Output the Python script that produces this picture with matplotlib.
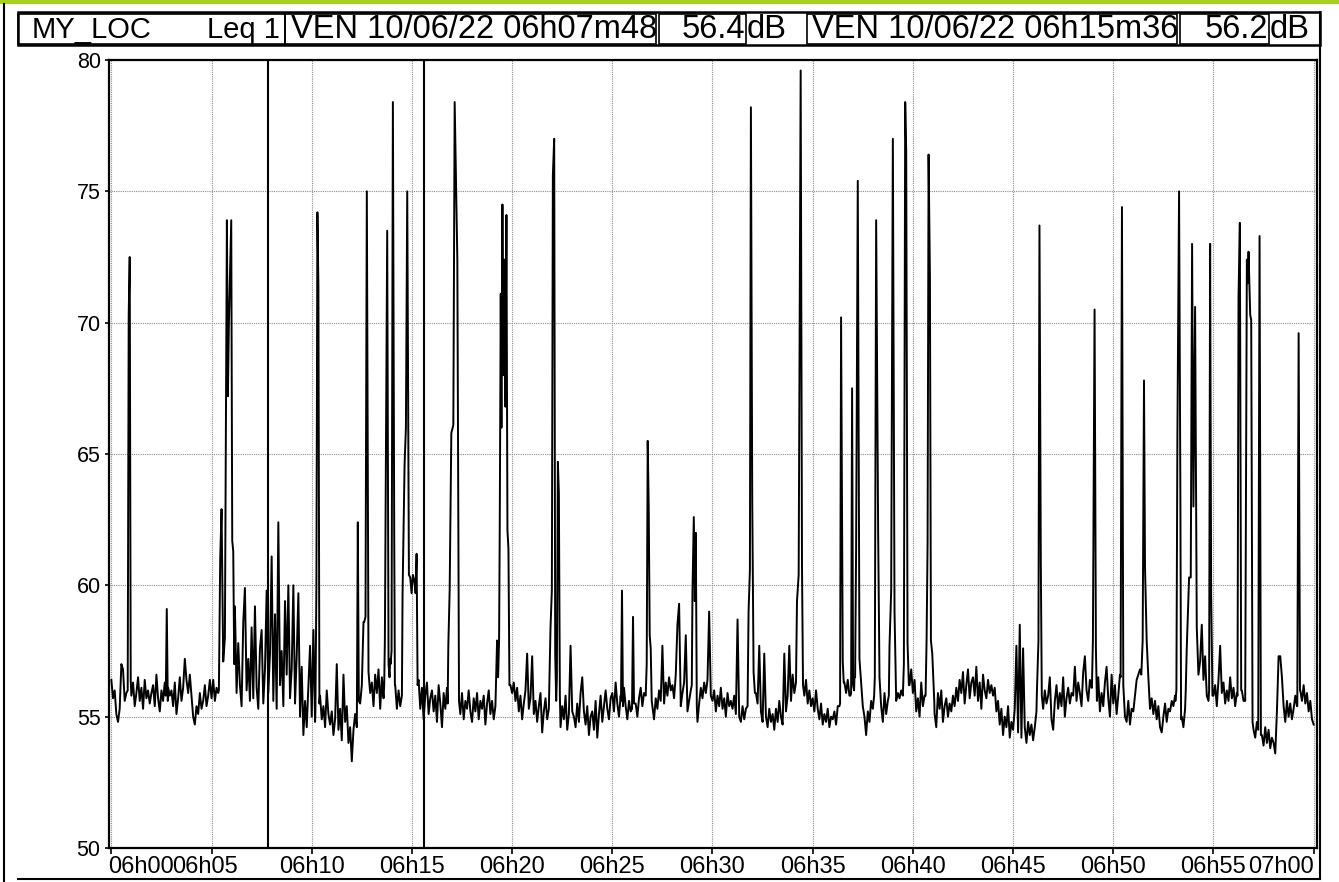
import numpy as np
import matplotlib
matplotlib.use("Agg")
import matplotlib.pyplot as plt
import matplotlib.transforms as mtransforms
from matplotlib.patches import Rectangle

plt.rcParams['font.family'] = ['Liberation Sans', 'DejaVu Sans']

# header texts
site_name = "MY_LOC"
index_name = "Leq 1"
cursor1_label = "VEN 10/06/22 06h07m48"
cursor1_value = "56.4"
cursor2_label = "VEN 10/06/22 06h15m36"
cursor2_value = "56.2"
unit = "dB"

# cursor positions, seconds after 06h00
cursor_t = [468, 936]

# axis ticks
x_ticks = [0, 300, 600, 900, 1200, 1500, 1800, 2100, 2400, 2700, 3000, 3300, 3600]
x_labels = ["06h00", "06h05", "06h10", "06h15", "06h20", "06h25", "06h30",
            "06h35", "06h40", "06h45", "06h50", "06h55", "07h00"]
y_ticks = [50, 55, 60, 65, 70, 75, 80]

# background level, one value every 5 s, one row per minute
base_db_by_min = [
    [56.4, 55.7, 56.0, 55.1, 54.8, 55.3, 57.0, 56.8, 55.6, 55.9, 56.2, 56.0],
    [55.8, 56.3, 55.4, 55.9, 56.5, 55.6, 56.1, 55.3, 56.4, 55.7, 56.0, 55.5],
    [55.9, 56.2, 55.4, 56.6, 55.7, 55.2, 56.0, 55.6, 56.3, 55.5, 56.1, 55.8],
    [56.0, 55.4, 56.3, 55.1, 55.7, 56.5, 55.6, 56.1, 57.2, 56.4, 55.9, 56.6],
    [55.8, 55.0, 54.7, 55.4, 55.1, 55.9, 55.3, 55.6, 56.2, 55.4, 55.8, 56.4],
    [55.7, 56.4, 55.6, 56.1, 55.9, 56.3, 56.0, 56.5, 56.2, 56.8, 57.0, 56.4],
    [57.5, 56.3, 59.2, 55.9, 57.8, 56.2, 55.4, 58.6, 59.9, 56.0, 57.2, 55.6],
    [58.4, 55.7, 59.2, 56.1, 55.3, 57.6, 58.3, 55.5, 56.8, 59.8, 55.9, 57.4],
    [61.1, 55.6, 58.9, 55.3, 62.4, 56.2, 57.5, 55.4, 59.4, 56.6, 60.0, 55.7],
    [56.8, 60.0, 55.5, 57.3, 59.7, 55.0, 56.9, 54.3, 55.6, 54.6, 56.2, 57.7],
    [55.0, 58.3, 54.8, 55.6, 56.0, 55.8, 54.9, 55.4, 54.6, 56.0, 55.1, 54.7],
    [55.2, 54.3, 54.9, 57.0, 54.5, 55.3, 54.1, 56.6, 54.8, 55.4, 54.0, 54.6],
    [53.3, 54.5, 55.1, 55.6, 55.9, 55.5, 56.2, 58.6, 58.8, 57.0, 56.7, 55.9],
    [56.3, 55.4, 56.6, 55.9, 56.8, 55.3, 56.5, 55.7, 57.9, 56.2, 57.0, 57.2],
    [57.4, 55.8, 56.2, 55.3, 56.0, 55.4, 56.1, 59.7, 64.6, 60.4, 59.9, 60.4],
    [60.2, 59.7, 60.5, 61.2, 56.4, 55.3, 56.1, 54.9, 55.8, 56.3, 55.1, 55.7],
    [56.0, 55.2, 55.8, 54.8, 56.2, 55.5, 54.6, 55.9, 55.3, 56.1, 55.0, 57.7],
    [59.8, 65.8, 66.1, 72.4, 55.6, 55.1, 55.9, 54.9, 55.6, 55.3, 56.0, 55.2],
    [54.8, 55.7, 55.2, 55.9, 54.9, 55.6, 55.3, 55.8, 54.7, 55.5, 56.0, 55.1],
    [55.6, 54.9, 55.4, 57.9, 57.9, 62.3, 71.1, 74.5, 72.4, 74.1, 62.1, 56.2],
    [55.9, 56.3, 55.6, 56.1, 55.2, 55.8, 54.9, 55.5, 56.0, 57.4, 55.3, 55.7],
    [57.3, 55.1, 55.6, 54.8, 55.4, 55.9, 54.4, 55.2, 55.7, 54.9, 55.3, 58.4],
    [59.8, 55.6, 56.5, 63.5, 55.8, 54.6, 55.4, 54.9, 55.8, 54.5, 55.1, 57.7],
    [55.2, 55.0, 54.6, 55.5, 54.8, 55.9, 56.5, 55.2, 54.7, 55.4, 54.3, 55.0],
    [55.2, 54.5, 55.6, 54.2, 55.1, 55.8, 54.8, 55.4, 56.0, 55.3, 54.9, 55.7],
    [55.9, 55.2, 56.3, 55.5, 55.0, 55.8, 59.8, 56.1, 55.4, 54.9, 55.6, 55.2],
    [55.3, 58.8, 55.5, 55.0, 55.7, 56.1, 55.4, 55.9, 56.5, 55.6, 58.1, 56.0],
    [55.4, 54.9, 55.7, 55.3, 56.0, 55.6, 57.7, 55.5, 56.3, 55.8, 56.5, 56.0],
    [56.2, 55.7, 56.6, 58.5, 59.3, 55.4, 55.9, 56.3, 58.1, 55.2, 55.6, 56.0],
    [59.7, 62.6, 62.0, 54.8, 55.5, 56.1, 55.7, 56.3, 55.9, 56.4, 59.0, 55.8],
    [55.6, 56.0, 55.2, 55.8, 55.4, 56.1, 55.3, 55.7, 55.0, 55.9, 55.4, 55.6],
    [55.3, 55.8, 55.1, 58.7, 55.0, 54.8, 55.4, 54.9, 55.3, 59.0, 60.6, 78.2],
    [63.2, 56.7, 55.9, 55.5, 57.7, 55.2, 54.8, 57.4, 55.0, 54.6, 55.3, 54.8],
    [55.1, 54.5, 55.3, 54.8, 55.6, 55.0, 54.7, 57.4, 55.2, 55.8, 57.7, 55.6],
    [56.6, 55.9, 56.3, 59.4, 60.4, 79.6, 56.2, 55.8, 56.4, 55.5, 56.0, 55.4],
    [55.7, 55.2, 56.0, 55.3, 54.9, 55.5, 54.7, 55.1, 54.8, 55.3, 54.6, 55.0],
    [54.9, 55.2, 54.7, 55.4, 55.6, 70.2, 57.1, 56.3, 55.9, 56.4, 55.8, 56.1],
    [56.2, 56.5, 61.4, 75.4, 57.2, 56.3, 55.4, 55.0, 54.3, 55.2, 54.8, 55.6],
    [55.3, 56.5, 73.9, 62.0, 56.5, 55.4, 54.8, 55.9, 55.1, 55.6, 57.7, 59.8],
    [77.0, 59.0, 55.6, 55.9, 55.7, 56.0, 55.5, 56.1, 55.8, 57.0, 56.2, 56.8],
    [55.9, 56.4, 55.2, 55.7, 55.0, 56.3, 55.4, 55.8, 55.1, 61.6, 71.8, 57.4],
    [55.6, 55.1, 54.6, 55.9, 55.3, 56.0, 54.8, 55.4, 55.7, 55.0, 55.5, 55.2],
    [55.8, 55.4, 56.1, 55.6, 56.4, 55.9, 56.7, 55.5, 56.2, 56.8, 55.7, 56.3],
    [56.5, 55.8, 56.9, 55.6, 56.3, 55.3, 56.6, 56.0, 55.7, 56.4, 55.9, 56.2],
    [55.8, 56.1, 55.2, 55.6, 54.7, 55.3, 54.3, 55.0, 54.6, 55.4, 54.2, 54.8],
    [54.5, 55.3, 57.7, 54.4, 58.5, 54.2, 57.6, 54.6, 54.0, 54.8, 54.3, 54.7],
    [54.1, 54.6, 55.2, 57.9, 60.9, 55.8, 55.3, 56.0, 55.5, 55.8, 56.5, 54.9],
    [54.5, 55.6, 56.2, 55.3, 55.9, 55.4, 56.5, 55.0, 55.7, 56.1, 55.5, 55.9],
    [55.8, 56.9, 55.6, 56.3, 55.9, 55.4, 56.7, 57.3, 56.0, 55.6, 56.4, 56.1],
    [57.9, 56.4, 55.6, 56.5, 55.2, 55.9, 55.4, 56.3, 56.9, 55.7, 55.0, 56.6],
    [55.5, 56.2, 55.1, 55.8, 56.6, 74.4, 55.9, 55.0, 54.8, 55.6, 54.7, 55.3],
    [55.2, 55.8, 56.4, 56.6, 56.8, 67.8, 57.9, 56.5, 55.6, 55.9, 55.3, 55.7],
    [55.1, 55.6, 54.9, 55.4, 54.6, 54.4, 55.0, 55.5, 54.8, 55.3, 55.2, 55.6],
    [55.4, 55.8, 55.2, 56.3, 75.0, 55.0, 54.6, 55.3, 57.6, 60.3, 60.3, 63.0],
    [63.0, 70.6, 56.6, 56.2, 57.1, 58.5, 56.4, 57.3, 55.8, 56.2, 55.5, 73.0],
    [55.8, 56.2, 55.4, 56.4, 57.7, 55.9, 56.3, 55.5, 56.0, 55.6, 56.5, 55.7],
    [56.1, 55.4, 55.9, 56.2, 73.8, 56.0, 55.6, 55.8, 72.4, 72.7, 70.3, 54.8],
    [54.5, 54.2, 54.8, 54.1, 73.3, 54.3, 53.9, 54.6, 54.0, 54.5, 53.8, 54.2],
    [54.0, 53.6, 55.2, 57.3, 57.3, 56.5, 55.4, 54.8, 55.6, 55.0, 55.5, 54.9],
    [55.3, 55.8, 55.4, 69.6, 56.0, 55.6, 56.2, 55.5, 55.9, 55.2, 55.6, 54.9],
]
base_db_end = 54.7

# short noise events (time in s, level in dB), these replace the background points they cover
events = [
    [(49, 56.0), (52, 70.3), (55, 72.5), (58, 56.4)],
    [(163, 55.8), (166, 59.1), (169, 55.6)],
    [(322, 56.0), (326, 61.0), (330, 62.9), (335, 57.1), (340, 58.0), (346, 73.9),
     (349, 67.2), (352, 70.0), (359, 73.9), (362, 61.7), (365, 61.3), (368, 57.0)],
    [(611, 55.2), (614, 60.0), (617, 74.2), (620, 71.4), (623, 55.5)],
    [(735, 54.6), (738, 62.4), (741, 55.6)],
    [(757, 58.6), (761, 58.8), (765, 75.0), (770, 56.7)],
    [(817, 56.2), (819, 57.9), (821, 62.3), (826, 73.5), (830, 57.0), (833, 56.5)],
    [(836, 57.0), (839, 57.5), (843, 78.4), (847, 62.0), (849, 56.2)],
    [(870, 55.8), (872, 59.7), (878, 64.6), (882, 66.0), (886, 75.0), (891, 60.4),
     (895, 60.3), (899, 59.7), (903, 60.4), (907, 60.2), (911, 59.7), (914, 61.2), (917, 56.2)],
    [(1007, 55.5), (1009, 57.7), (1013, 59.8), (1018, 65.8), (1024, 66.1), (1028, 78.4),
     (1036, 72.4), (1041, 55.6)],
    [(1158, 56.5), (1161, 57.9), (1163, 62.3), (1166, 71.1), (1168, 66.0), (1171, 74.5),
     (1174, 68.0), (1177, 72.4), (1180, 66.8), (1183, 74.1), (1186, 62.1), (1189, 61.4), (1192, 56.2)],
    [(1315, 58.4), (1319, 59.8), (1322, 75.6), (1326, 77.0), (1329, 57.4), (1332, 55.6),
     (1334, 56.5), (1337, 64.7), (1340, 63.5), (1343, 55.8)],
    [(1526, 55.6), (1529, 59.8), (1532, 55.4)],
    [(1559, 55.3), (1562, 58.8), (1565, 55.5)],
    [(1600, 55.8), (1603, 57.0), (1606, 65.5), (1609, 63.0), (1612, 58.1), (1615, 57.6), (1618, 55.6)],
    [(1738, 56.2), (1740, 59.7), (1744, 62.6), (1747, 59.4), (1750, 62.0), (1753, 55.4)],
    [(1905, 55.4), (1908, 59.0), (1912, 60.6), (1915, 78.2), (1919, 63.2), (1923, 56.7), (1927, 55.9)],
    [(2050, 56.3), (2053, 59.4), (2058, 60.4), (2064, 79.6), (2068, 60.7), (2071, 56.2)],
    [(2180, 55.4), (2182, 55.5), (2185, 70.2), (2188, 62.0), (2190, 57.1), (2193, 56.3)],
    [(2213, 55.8), (2215, 55.9), (2218, 67.5), (2221, 56.2), (2224, 56.0)],
    [(2227, 56.5), (2230, 61.4), (2235, 75.4), (2240, 57.2), (2245, 56.3)],
    [(2284, 55.8), (2286, 56.5), (2290, 73.9), (2293, 68.1), (2296, 62.0), (2300, 56.5)],
    [(2328, 55.8), (2330, 57.7), (2335, 59.8), (2340, 77.0), (2345, 59.0), (2350, 55.6)],
    [(2370, 55.8), (2373, 57.0), (2377, 78.4), (2380, 76.5), (2384, 57.8), (2388, 56.2)],
    [(2438, 55.8), (2441, 57.9), (2444, 61.6), (2447, 76.4), (2451, 71.8), (2454, 57.9),
     (2458, 57.4), (2464, 55.6)],
    [(2771, 55.8), (2776, 57.9), (2779, 73.7), (2783, 60.9), (2786, 55.8)],
    [(2936, 56.1), (2939, 57.9), (2944, 70.5), (2948, 57.6), (2951, 55.6)],
    [(3022, 56.5), (3026, 74.4), (3030, 56.2)],
    [(3084, 56.6), (3088, 57.9), (3092, 67.8), (3095, 60.7), (3100, 57.9), (3105, 56.5)],
    [(3186, 55.6), (3189, 56.0), (3192, 65.7), (3197, 75.0), (3201, 63.1), (3203, 54.9)],
    [(3217, 56.0), (3220, 57.6), (3227, 60.3), (3232, 60.3), (3236, 73.0), (3240, 63.0),
     (3245, 70.6), (3250, 58.4), (3255, 56.6)],
    [(3285, 55.6), (3287, 56.0), (3290, 73.0), (3293, 59.7), (3297, 55.8)],
    [(3372, 55.8), (3375, 71.0), (3379, 73.8), (3383, 56.0)],
    [(3395, 55.6), (3400, 72.4), (3403, 71.5), (3405, 72.7), (3410, 70.3), (3413, 70.1), (3417, 54.8)],
    [(3434, 54.5), (3438, 73.3), (3442, 54.3)],
    [(3551, 55.4), (3555, 69.6), (3559, 56.0)],
]

# build the series
base_db = np.array([v for row in base_db_by_min for v in row] + [base_db_end])
base_t = np.arange(len(base_db)) * 5.0
keep = np.ones(len(base_t), dtype=bool)
ev_t, ev_db = [], []
for ev in events:
    t0, t1 = ev[0][0], ev[-1][0]
    keep &= ~((base_t >= t0) & (base_t <= t1))
    ev_t += [p[0] for p in ev]
    ev_db += [p[1] for p in ev]
t_all = np.concatenate([base_t[keep], ev_t])
db_all = np.concatenate([base_db[keep], ev_db])
order = np.argsort(t_all, kind="stable")
t_all, db_all = t_all[order], db_all[order]

W, H = 1339, 882
fig = plt.figure(figsize=(W / 100, H / 100), dpi=100)
fig.patch.set_facecolor("white")

# overlay in pixel coordinates for the frame and header
ov = fig.add_axes([0, 0, 1, 1])
ov.set_xlim(0, W)
ov.set_ylim(H, 0)
ov.axis("off")
ov.patch.set_alpha(0)

ov.add_patch(Rectangle((0, 0), W, 4, facecolor="#a8d020", edgecolor="none"))
ov.plot([4, 4], [4, H], color="black", lw=1.5)
ov.plot([18, 1320], [879, 879], color="black", lw=1.5)
ov.plot([1320, 1320], [12, 879], color="black", lw=1.5)

hy0, hy1 = 12, 45
ov.add_patch(Rectangle((18, hy0), 1320 - 18, hy1 - hy0, fill=False, edgecolor="black", lw=1.8))
for x0, x1 in [(18, 285), (285, 656), (659, 746), (807, 1177), (1180, 1269)]:
    ov.add_patch(Rectangle((x0, hy0 + 1.5), x1 - x0, hy1 - hy0 - 3, fill=False,
                           edgecolor="black", lw=1.2))
yc = (hy0 + hy1) / 2 + 1
ov.text(32, yc, site_name, fontsize=21, va="center", ha="left")
ov.text(280, yc, index_name, fontsize=21, va="center", ha="right")
ov.text(291, yc, cursor1_label, fontsize=23.5, va="center", ha="left")
ov.text(745, yc, cursor1_value, fontsize=23.5, va="center", ha="right")
ov.text(747, yc, unit, fontsize=23.5, va="center", ha="left")
ov.text(812, yc, cursor2_label, fontsize=23.5, va="center", ha="left")
ov.text(1268, yc, cursor2_value, fontsize=23.5, va="center", ha="right")
ov.text(1270, yc, unit, fontsize=23.5, va="center", ha="left")

# main chart
ax = fig.add_axes([109 / W, 1 - 848 / H, (1317 - 109) / W, (848 - 60) / H])
ax.plot(t_all, db_all, color="black", lw=1.4, zorder=3)
for ct in cursor_t:
    ax.axvline(ct, color="black", lw=1.5, zorder=4)

ax.set_xlim(-7, 3610)
ax.set_ylim(50, 80)
ax.set_xticks(x_ticks)
ax.set_xticklabels(x_labels)
ax.set_yticks(y_ticks)
ax.grid(True, color="#8c8c8c", lw=0.8, linestyle=(0, (1, 1)))
ax.set_axisbelow(True)
for sp in ax.spines.values():
    sp.set_linewidth(1.6)
ax.tick_params(axis="x", direction="out", length=4, width=1.2, pad=2, labelsize=17)
ax.tick_params(axis="y", direction="out", length=3, width=1.2, pad=3, labelsize=15.5)

# first label sits at the left edge, second one right after it, last one at the right edge
xl = ax.get_xticklabels()
xl[0].set_ha("left")
xl[0].set_transform(xl[0].get_transform() + mtransforms.ScaledTranslation(-3 / 100, 0, fig.dpi_scale_trans))
xl[1].set_transform(xl[1].get_transform() + mtransforms.ScaledTranslation(-7 / 100, 0, fig.dpi_scale_trans))
xl[-1].set_ha("right")

fig.savefig("out.png", dpi=100)
